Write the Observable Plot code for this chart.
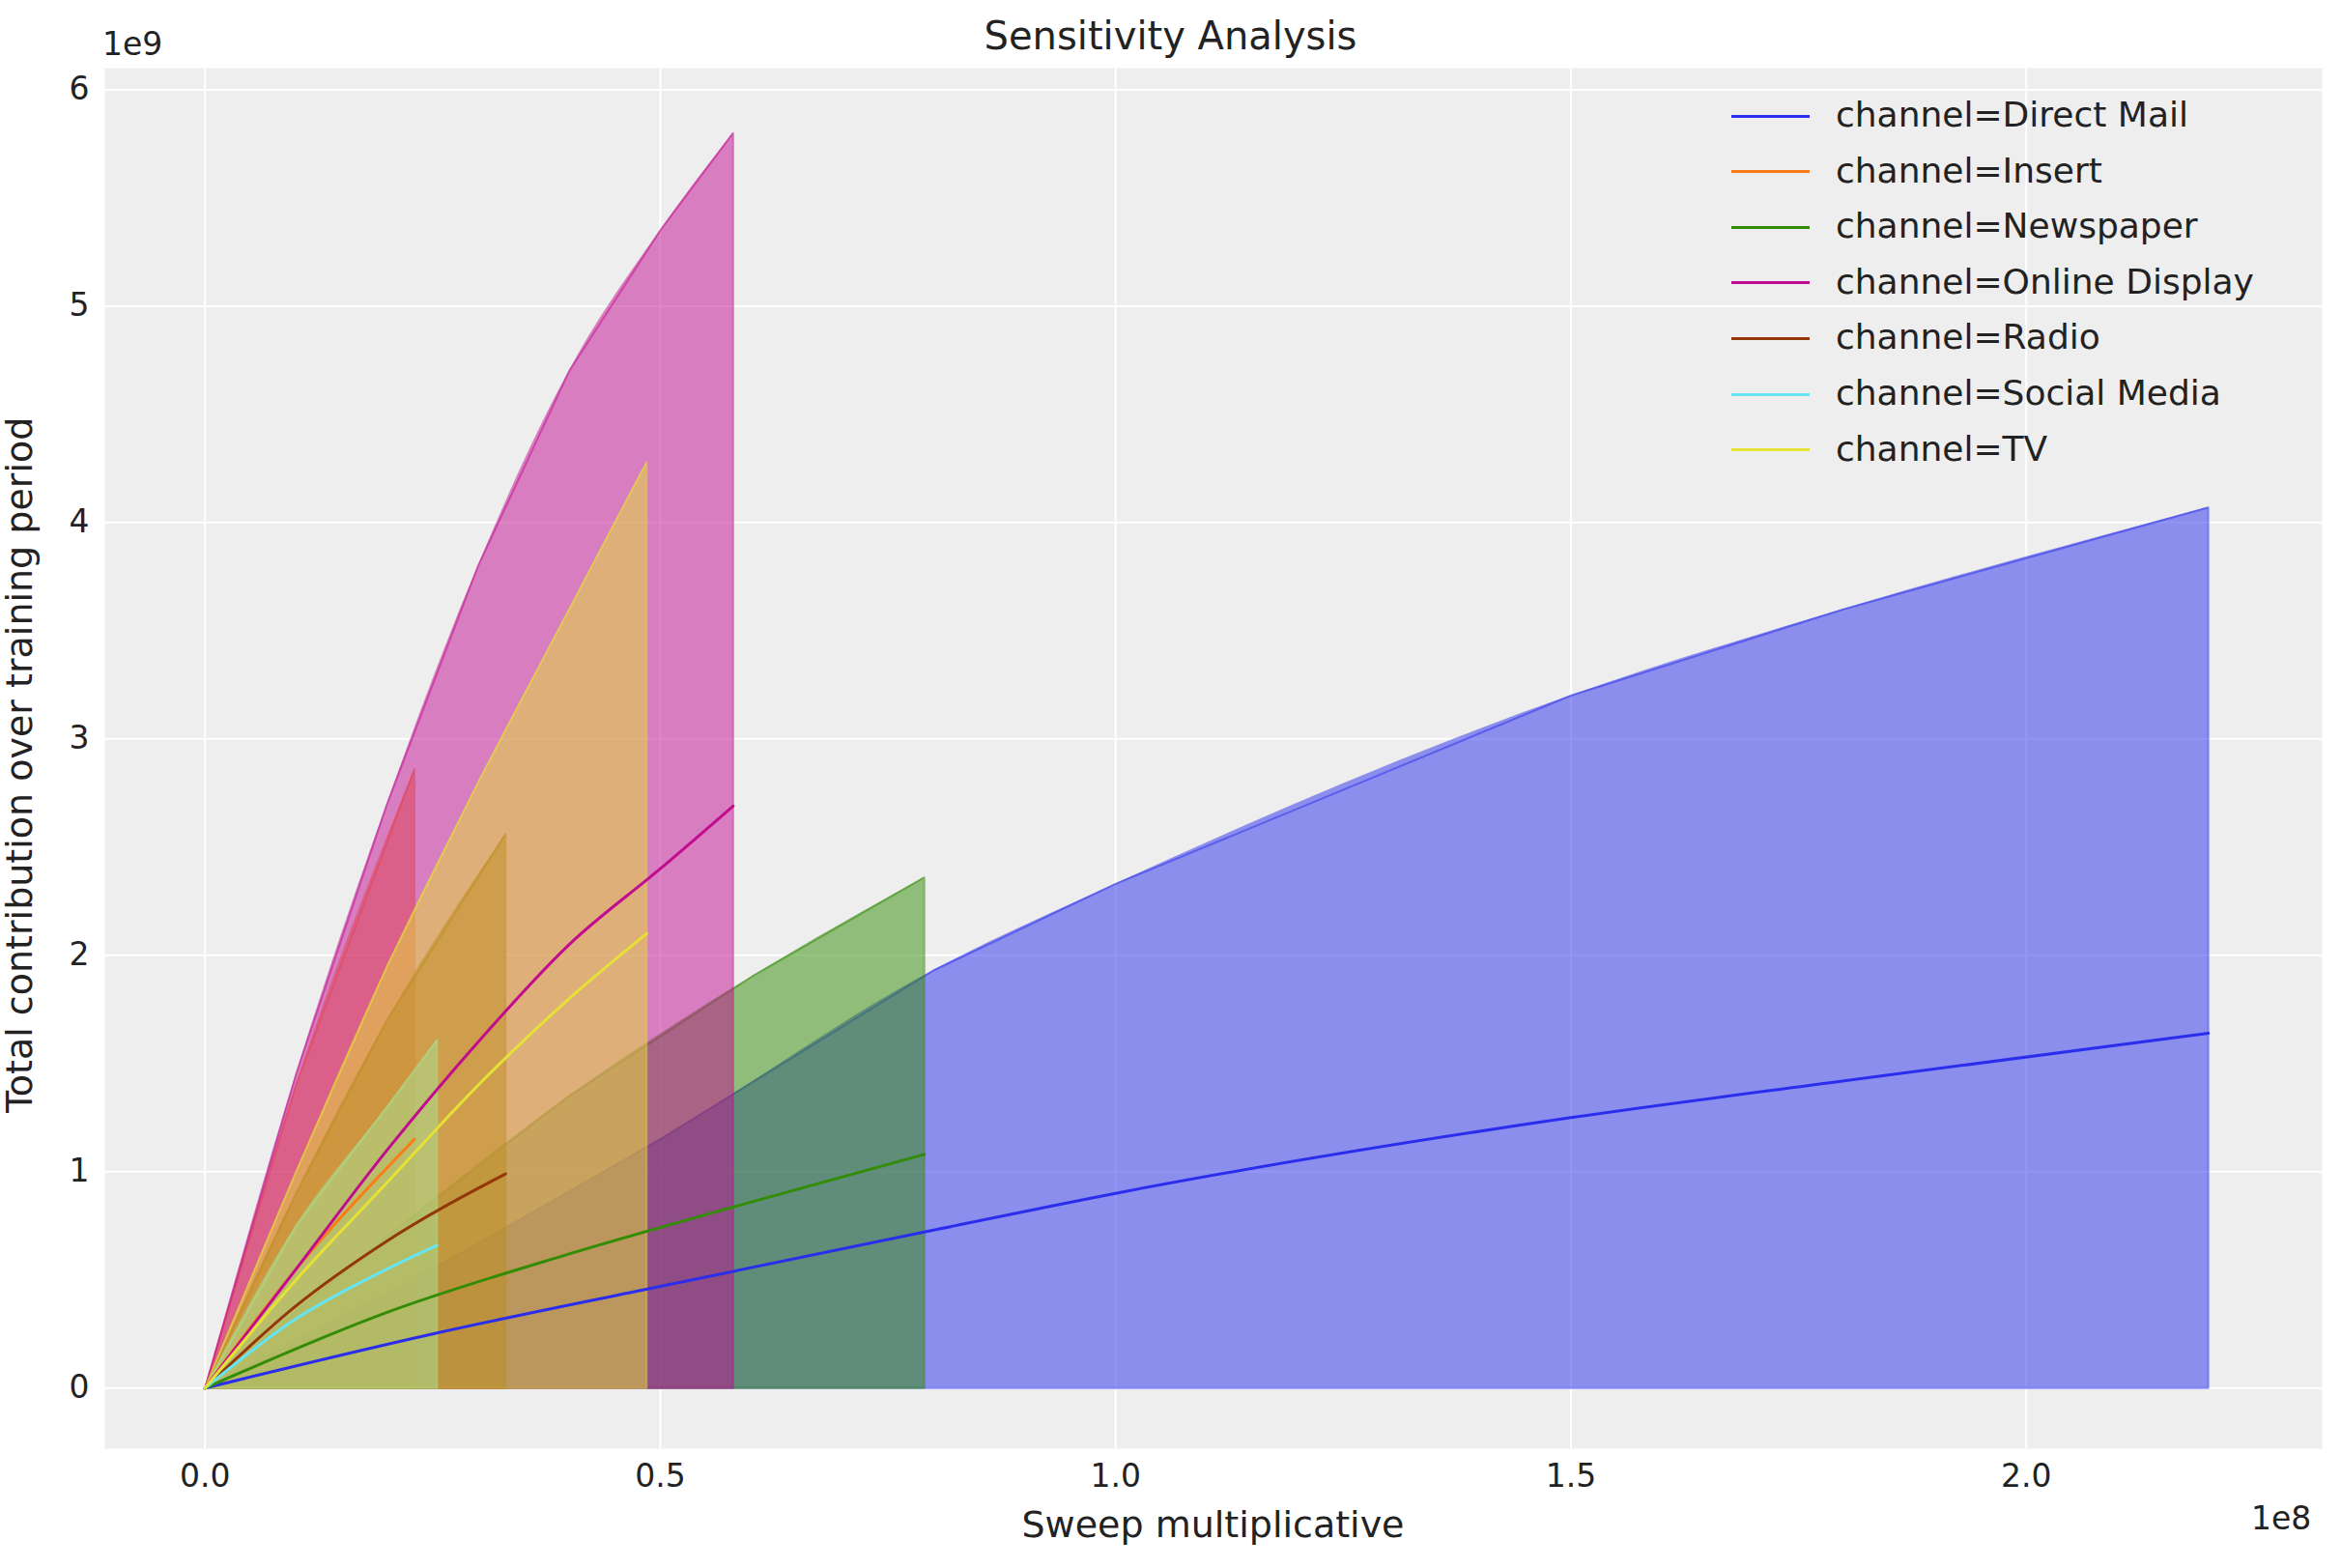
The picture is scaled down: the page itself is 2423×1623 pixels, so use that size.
<!DOCTYPE html>
<html><head><meta charset="utf-8">
<script src="https://cdn.jsdelivr.net/npm/d3@7"></script>
<script src="https://cdn.jsdelivr.net/npm/@observablehq/plot@0.6"></script>
<style>
body{margin:0;background:#fff;font-family:"DejaVu Sans",sans-serif;}
#wrap{position:relative;width:2423px;height:1623px;}
.t{position:absolute;color:#222;white-space:nowrap;}
</style></head><body>
<div id="wrap"></div>
<script>
// x in units of 1e8, y in units of 1e9
const channels = ["Direct Mail","Insert","Newspaper","Online Display","Radio","Social Media","TV"];
const colors = ["#2a2eec","#fa7c17","#328c06","#c10c90","#933708","#65e5f3","#e6e135"];
const xs = {
  "Direct Mail":[0,0.25,0.5,0.8,1.0,1.5,1.8,2.2],
  "Insert":[0,0.1,0.23],
  "Newspaper":[0,0.2,0.4,0.6,0.79],
  "Online Display":[0,0.1,0.2,0.3,0.4,0.5,0.58],
  "Radio":[0,0.1,0.2,0.33],
  "Social Media":[0,0.1,0.2,0.255],
  "TV":[0,0.1,0.2,0.3,0.4,0.485]
};
const upper = {
  "Direct Mail":[0,0.55,1.15,1.93,2.33,3.2,3.6,4.07],
  "Insert":[0,1.4,2.86],
  "Newspaper":[0,0.7,1.35,1.9,2.36],
  "Online Display":[0,1.45,2.7,3.8,4.7,5.35,5.8],
  "Radio":[0,0.9,1.7,2.56],
  "Social Media":[0,0.75,1.3,1.61],
  "TV":[0,1.0,1.95,2.8,3.6,4.28]
};
const mean = {
  "Direct Mail":[0,0.25,0.47,0.73,0.9,1.25,1.42,1.64],
  "Insert":[0,0.55,1.15],
  "Newspaper":[0,0.35,0.62,0.86,1.08],
  "Online Display":[0,0.55,1.1,1.6,2.05,2.4,2.69],
  "Radio":[0,0.38,0.68,0.99],
  "Social Media":[0,0.32,0.55,0.66],
  "TV":[0,0.5,0.95,1.4,1.8,2.1]
};
const xTicks=[0,0.5,1.0,1.5,2.0], yTicks=[0,1,2,3,4,5,6];

const marks=[Plot.frame({fill:"#eeeeee"}),
  Plot.gridX(xTicks,{stroke:"white",strokeOpacity:1,strokeWidth:2}),
  Plot.gridY(yTicks,{stroke:"white",strokeOpacity:1,strokeWidth:2})];
channels.forEach((c,i)=>{
  const d=xs[c].map((x,j)=>({x,u:upper[c][j],m:mean[c][j]}));
  marks.push(Plot.areaY(d,{x:"x",y1:0,y2:"u",fill:colors[i],fillOpacity:0.5,curve:"monotone-x"}));
  marks.push(Plot.line([...d,{x:d[d.length-1].x,u:0},{x:0,u:0}],{x:"x",y:"u",stroke:colors[i],strokeOpacity:0.5,strokeWidth:2,curve:"linear"}));
});
channels.forEach((c,i)=>{
  const d=xs[c].map((x,j)=>({x,m:mean[c][j]}));
  marks.push(Plot.line(d,{x:"x",y:"m",stroke:colors[i],strokeWidth:3,curve:"monotone-x"}));
});
const chart=Plot.plot({width:2423,height:1623,marginTop:70,marginBottom:124,marginLeft:108,marginRight:20,
  style:{fontSize:"33px",fontFamily:"DejaVu Sans",color:"#222",background:"white"},
  x:{domain:[-0.11,2.325],ticks:xTicks,tickFormat:d3.format(".1f"),tickSize:0,tickPadding:16,label:null},
  y:{domain:[-0.28,6.1],ticks:yTicks,tickFormat:d3.format("d"),tickSize:0,tickPadding:16,label:null},
  marks});
const wrap=document.getElementById("wrap");
wrap.appendChild(chart);
function txt(s,style){const e=document.createElement("div");e.className="t";e.textContent=s;Object.assign(e.style,style);wrap.appendChild(e);return e;}
txt("Sensitivity Analysis",{left:"0",width:"2423px",textAlign:"center",top:"14px",fontSize:"40px"});
txt("Sweep multiplicative",{left:"0",width:"2423px",paddingLeft:"88px",boxSizing:"border-box",textAlign:"center",top:"1556px",fontSize:"38px"});
txt("Total contribution over training period",{left:"-330px",width:"700px",textAlign:"center",top:"780px",fontSize:"38px",transform:"rotate(-90deg)",transformOrigin:"center"});
txt("1e9",{left:"106px",top:"26px",fontSize:"33px"});
txt("1e8",{left:"2330px",top:"1552px",fontSize:"33px"});
channels.forEach((c,i)=>{
  const y=120+i*57.6;
  const l=document.createElement("div");
  Object.assign(l.style,{position:"absolute",left:"1792px",top:(y-1.5)+"px",width:"81px",height:"3px",background:colors[i]});
  wrap.appendChild(l);
  txt("channel="+c,{left:"1900px",top:(y-22)+"px",fontSize:"36px"});
});
</script></body></html>
